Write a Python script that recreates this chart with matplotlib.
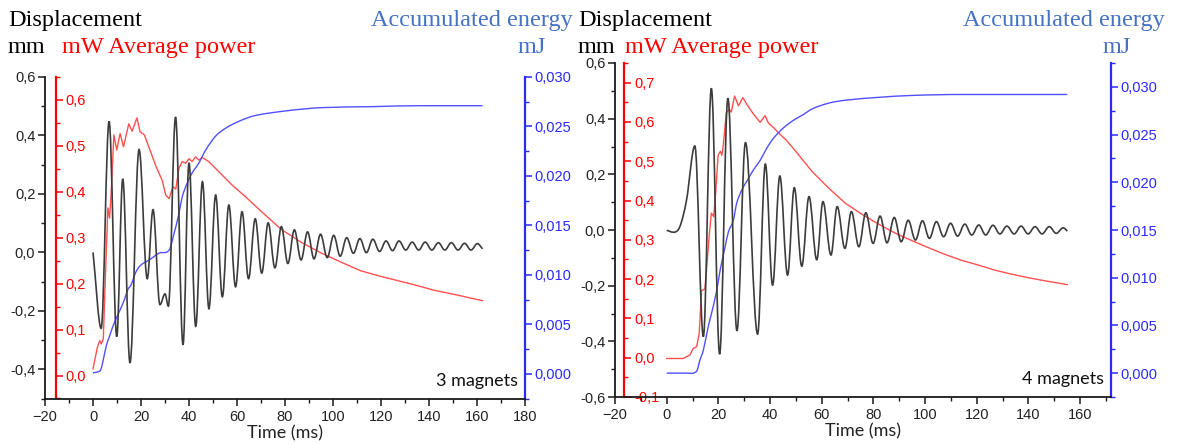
import matplotlib
matplotlib.use("Agg")
import matplotlib.pyplot as plt
from matplotlib.path import Path
from matplotlib.patches import PathPatch
from matplotlib.ticker import MultipleLocator, FuncFormatter

# ---------------- 3 magnets ----------------
disp3_t = [0.0, 3.4, 6.7, 9.9, 12.4, 15.4, 19.2, 22.6, 25.0, 27.9, 30.0, 31.4, 34.4,
           37.5, 40.0, 42.8, 45.6, 48.3, 51.1, 53.9, 56.6, 59.4, 62.1, 64.8, 67.6,
           70.3, 73.0, 75.8, 78.5, 81.2, 83.9, 86.7, 89.4, 92.1, 94.8, 97.6, 100.3,
           103.0, 105.7, 108.5, 111.2, 113.9, 116.6, 119.4, 122.1, 124.8, 127.5,
           130.3, 133.0, 135.7, 138.4, 141.2, 143.9, 146.6, 149.3, 152.1, 154.8,
           157.5, 160.2, 162.3]
disp3_v = [0.0, -0.26, 0.448, -0.288, 0.251, -0.378, 0.352, -0.09, 0.146, -0.179,
           -0.142, -0.184, 0.463, -0.316, 0.306, -0.253, 0.242, -0.193, 0.196, -0.152,
           0.162, -0.118, 0.139, -0.09, 0.115, -0.071, 0.101, -0.053, 0.088, -0.038,
           0.077, -0.026, 0.07, -0.022, 0.062, -0.018, 0.058, -0.013, 0.05, -0.003,
           0.047, -0.001, 0.045, 0.003, 0.039, 0.006, 0.039, 0.008, 0.035, 0.008,
           0.035, 0.008, 0.033, 0.008, 0.033, 0.008, 0.031, 0.008, 0.030, 0.012]

pow3_t = [0.0, 1.8, 2.8, 3.5, 4.3, 5.1, 6.2, 6.9, 7.6, 8.7, 9.9, 11.3, 12.7, 14.9,
          16.3, 18.3, 19.6, 21.4, 23.4, 26.2, 28.9, 30.3, 31.7, 33.3, 34.5, 35.8,
          37.2, 38.6, 40.0, 41.3, 42.7, 44.1, 45.5, 48.2, 52.4, 57.9, 63.4, 70.2,
          78.5, 86.8, 95.0, 103.3, 111.6, 119.8, 133.6, 141.9, 152.0, 162.3]
pow3_v = [0.0145, 0.061, 0.076, 0.069, 0.08, 0.206, 0.365, 0.343, 0.40, 0.524, 0.491,
          0.527, 0.498, 0.548, 0.532, 0.561, 0.531, 0.524, 0.496, 0.456, 0.424, 0.393,
          0.385, 0.411, 0.406, 0.451, 0.466, 0.462, 0.472, 0.466, 0.476, 0.469, 0.475,
          0.466, 0.444, 0.415, 0.39, 0.357, 0.318, 0.29, 0.267, 0.247, 0.228, 0.216,
          0.198, 0.186, 0.175, 0.163]

en3_t = [0.0, 2.1, 3.2, 4.1, 5.5, 6.9, 8.3, 9.7, 11.0, 13.1, 14.5, 15.9, 17.9, 20.0,
         23.4, 27.6, 31.7, 33.8, 35.8, 37.2, 39.3, 41.3, 44.1, 46.9, 51.0, 55.1, 60.6,
         67.5, 81.3, 95.0, 115.7, 136.4, 162.3]
en3_v = [0.0001, 0.0002, 0.0004, 0.0012, 0.0028, 0.0038, 0.0048, 0.0056, 0.0063,
         0.0075, 0.0085, 0.009, 0.0103, 0.011, 0.0115, 0.0122, 0.0125, 0.0142, 0.0162,
         0.0179, 0.0193, 0.0203, 0.0213, 0.0226, 0.024, 0.0248, 0.0255, 0.0261, 0.0266,
         0.0269, 0.027, 0.0271, 0.0271]

# ---------------- 4 magnets ----------------
disp4_t = [0.0, 2.6, 5.1, 7.7, 10.9, 14.2, 17.3, 20.5, 23.7, 27.2, 30.5, 35.2, 38.2,
           41.0, 43.8, 46.8, 49.4, 52.3, 55.1, 58.1, 60.5, 63.6, 66.0, 69.0, 71.5,
           74.4, 77.1, 79.9, 82.6, 85.3, 88.1, 90.8, 93.5, 96.3, 99.0, 101.7, 104.4,
           107.2, 109.9, 112.6, 115.4, 118.1, 120.8, 123.5, 126.3, 129.0, 131.7,
           134.5, 137.2, 139.9, 142.6, 145.3, 148.1, 150.8, 153.5, 155.1]
disp4_v = [-0.001, -0.008, 0.012, 0.108, 0.302, -0.383, 0.509, -0.446, 0.473, -0.362,
           0.314, -0.374, 0.237, -0.198, 0.194, -0.162, 0.152, -0.13, 0.12, -0.107,
           0.102, -0.09, 0.084, -0.066, 0.066, -0.06, 0.062, -0.048, 0.05, -0.046,
           0.045, -0.042, 0.035, -0.036, 0.033, -0.03, 0.03, -0.024, 0.024, -0.022,
           0.021, -0.018, 0.018, -0.018, 0.017, -0.014, 0.014, -0.014, 0.014, -0.014,
           0.012, -0.014, 0.012, -0.012, 0.008, -0.004]

pow4_t = [0.0, 6.4, 9.0, 10.3, 11.6, 12.6, 13.5, 14.8, 15.5, 16.5, 17.3, 18.2, 19.0,
          19.9, 20.8, 21.4, 21.9, 23.1, 24.3, 25.0, 26.3, 27.8, 29.5, 31.0, 33.6, 36.2,
          38.1, 39.4, 41.3, 43.8, 46.4, 50.0, 56.4, 62.8, 69.2, 75.6, 82.0, 88.5, 94.9,
          101.3, 107.7, 114.1, 120.5, 126.9, 133.3, 139.7, 146.2, 155.1]
pow4_v = [-0.002, -0.002, 0.007, 0.024, 0.028, 0.061, 0.171, 0.175, 0.229, 0.313,
          0.368, 0.359, 0.422, 0.515, 0.525, 0.515, 0.54, 0.624, 0.632, 0.625, 0.666,
          0.641, 0.662, 0.645, 0.62, 0.599, 0.616, 0.597, 0.586, 0.569, 0.553, 0.525,
          0.473, 0.431, 0.393, 0.365, 0.34, 0.317, 0.298, 0.28, 0.263, 0.248, 0.236,
          0.223, 0.213, 0.204, 0.196, 0.186]

en4_t = [0.0, 7.7, 11.6, 12.9, 14.2, 16.1, 17.4, 19.4, 20.7, 22.6, 23.9, 25.8, 27.1,
         29.1, 31.0, 33.6, 36.2, 38.8, 41.3, 45.2, 49.1, 52.9, 56.4, 62.8, 69.2, 82.0,
         94.9, 114.1, 155.1]
en4_v = [0.0, 0.0, 0.0002, 0.0014, 0.0024, 0.0049, 0.0063, 0.0087, 0.0108, 0.0132,
         0.0148, 0.016, 0.0178, 0.0192, 0.0201, 0.0213, 0.0223, 0.0236, 0.0246, 0.0257,
         0.0265, 0.0271, 0.0277, 0.0283, 0.0286, 0.0289, 0.0291, 0.0292, 0.0292]

W, H = 1180, 445
BLACK = "#1a1a1a"
RED = "#ff0000"
BLUE = "#2a2aff"
TITLE_BLUE = "#4472c4"
SANS = ["Liberation Sans", "DejaVu Sans"]
SERIF = ["Liberation Serif", "DejaVu Serif"]


def comma(decimals):
    def fmt(v, pos):
        s = f"{v:.{decimals}f}"
        if float(s) == 0:
            s = s.lstrip("-")
        return s.replace(".", ",")
    return FuncFormatter(fmt)


def smooth_path(t, v):
    """Cubic curve through the points: flat at local extrema, centred slope elsewhere."""
    n = len(t)
    m = []
    for i in range(n):
        if i == 0:
            m.append((v[1] - v[0]) / (t[1] - t[0]))
        elif i == n - 1:
            m.append((v[-1] - v[-2]) / (t[-1] - t[-2]))
        elif (v[i] - v[i - 1]) * (v[i + 1] - v[i]) <= 0:
            m.append(0.0)
        else:
            m.append((v[i + 1] - v[i - 1]) / (t[i + 1] - t[i - 1]))
    verts = [(t[0], v[0])]
    codes = [Path.MOVETO]
    for i in range(n - 1):
        dt = t[i + 1] - t[i]
        k = 0.363 if (m[i] == 0 and m[i + 1] == 0) else 1 / 3
        verts += [(t[i] + k * dt, v[i] + k * dt * m[i]),
                  (t[i + 1] - k * dt, v[i + 1] - k * dt * m[i + 1]),
                  (t[i + 1], v[i + 1])]
        codes += [Path.CURVE4] * 3
    return Path(verts, codes)


def rect(x0, y0, x1, y1):
    return [x0 / W, 1 - y1 / H, (x1 - x0) / W, (y1 - y0) / H]


def panel(fig, box, xlim, dlim, plim, elim, red_frac, d, p, e, magnets, ptick=0.1):
    ax = fig.add_axes(box)
    axp = ax.twinx()
    axe = ax.twinx()

    ax.set_xlim(*xlim)
    ax.set_ylim(*dlim)
    axp.set_ylim(*plim)
    axe.set_ylim(*elim)

    # curves
    axp.plot(p[0], p[1], color="#ff5050", lw=1.0, zorder=3)
    axe.add_patch(PathPatch(smooth_path(e[0], e[1]), fill=False, edgecolor="#5050ff",
                            lw=1.0, zorder=3))
    ax.add_patch(PathPatch(smooth_path(d[0], d[1]), fill=False, edgecolor="#3c3c3c",
                           lw=1.2, zorder=2))
    ax.set_zorder(3)
    ax.patch.set_visible(False)

    # displacement axis (left, black)
    for s in ("top", "right"):
        ax.spines[s].set_visible(False)
    for s in ("left", "bottom"):
        ax.spines[s].set_color(BLACK)
        ax.spines[s].set_linewidth(1.3)
    ax.yaxis.set_major_locator(MultipleLocator(0.2))
    ax.yaxis.set_minor_locator(MultipleLocator(0.1))
    ax.yaxis.set_major_formatter(comma(1))
    ax.xaxis.set_major_locator(MultipleLocator(20))
    ax.xaxis.set_minor_locator(MultipleLocator(10))
    ax.tick_params(axis="both", which="major", direction="out", length=5, width=1.1,
                   color=BLACK, labelsize=10.5, labelcolor="#222222")
    ax.tick_params(axis="both", which="minor", direction="out", length=3, width=1.0,
                   color=BLACK)
    ax.tick_params(axis="y", pad=2)
    ax.tick_params(axis="x", pad=3)
    for lab in ax.get_xticklabels() + ax.get_yticklabels():
        lab.set_family(SANS)
    ax.set_xlabel("Time (ms)", family=["Lato", "DejaVu Sans"], fontsize=13,
                  color="#222222", labelpad=1)

    # power axis (inner left spine, red)
    for s in ("top", "left", "bottom"):
        axp.spines[s].set_visible(False)
    axp.spines["right"].set_position(("axes", red_frac))
    axp.spines["right"].set_color(RED)
    axp.spines["right"].set_linewidth(1.6)
    axp.yaxis.set_major_locator(MultipleLocator(ptick))
    axp.yaxis.set_minor_locator(MultipleLocator(ptick / 2))
    axp.yaxis.set_major_formatter(comma(1))
    axp.tick_params(axis="y", which="major", direction="out", length=5, width=1.1,
                    color=RED, labelcolor=RED, labelsize=10.5, pad=2)
    axp.tick_params(axis="y", which="minor", direction="out", length=3, width=1.0,
                    color=RED)
    for lab in axp.get_yticklabels():
        lab.set_family(SANS)

    # energy axis (right, blue)
    for s in ("top", "left", "bottom"):
        axe.spines[s].set_visible(False)
    axe.spines["right"].set_color(BLUE)
    axe.spines["right"].set_linewidth(1.6)
    axe.yaxis.set_major_locator(MultipleLocator(0.005))
    axe.yaxis.set_minor_locator(MultipleLocator(0.0025))
    axe.yaxis.set_major_formatter(comma(3))
    axe.tick_params(axis="y", which="major", direction="out", length=5, width=1.1,
                    color=BLUE, labelcolor=BLUE, labelsize=10.5, pad=2)
    axe.tick_params(axis="y", which="minor", direction="out", length=3, width=1.0,
                    color=BLUE)
    for lab in axe.get_yticklabels():
        lab.set_family(SANS)

    ax.text(0.985, 0.03, magnets, transform=ax.transAxes, ha="right", va="bottom",
            family=["Lato", "DejaVu Sans"], fontsize=13, color="#111111", zorder=5)
    return ax


fig = plt.figure(figsize=(W / 100, H / 100), dpi=100)

panel(fig, rect(45, 77, 525, 398.5), (-20, 180), (-0.5, 0.6), (-0.05, 0.65),
      (-0.0025, 0.030), 0.023, (disp3_t, disp3_v), (pow3_t, pow3_v),
      (en3_t, en3_v), "3 magnets")
panel(fig, rect(615, 63, 1111, 397), (-20, 172), (-0.6, 0.6), (-0.1, 0.75),
      (-0.0025, 0.0325), 0.019, (disp4_t, disp4_v), (pow4_t, pow4_v),
      (en4_t, en4_v), "4 magnets")


def label(x, y, s, color, ha="left"):
    fig.text(x / W, 1 - y / H, s, color=color, ha=ha, va="baseline",
             family=SERIF, fontsize=17.5)


for x0, x_pow, x_en, x_mj in ((8, 62, 573, 546), (578, 625, 1165, 1131)):
    label(x0, 26, "Displacement", "#000000")
    label(x0, 53, "mm", "#000000")
    label(x_pow, 53, "mW Average power", RED)
    label(x_en, 26, "Accumulated energy", TITLE_BLUE, ha="right")
    label(x_mj, 53, "mJ", TITLE_BLUE, ha="right")

fig.savefig("out.png", dpi=100)
